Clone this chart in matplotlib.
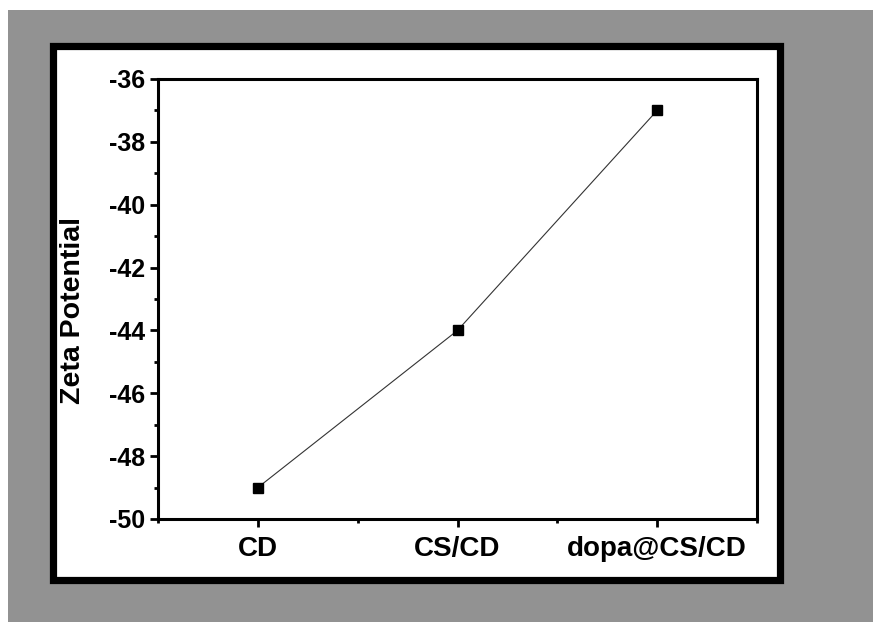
import matplotlib
matplotlib.use('Agg')
import matplotlib.pyplot as plt
import matplotlib.patches as patches
from matplotlib.ticker import MultipleLocator

# data
samples = ['CD', 'CS/CD', 'dopa@CS/CD']
zeta = [-49, -44, -37]
y_ticks = [-50, -48, -46, -44, -42, -40, -38, -36]

plt.rcParams['font.family'] = ['Liberation Sans', 'DejaVu Sans']
plt.rcParams['font.weight'] = 'bold'

W, H = 873, 622
fig = plt.figure(figsize=(W / 100, H / 100), dpi=100, facecolor='white')

# gray backdrop and black frame (pixel coords -> figure coords)
def fx(px):
    return px / W

def fy(py):
    return 1 - py / H

gray = patches.Rectangle((fx(8), 0), 1 - fx(8), fy(10), transform=fig.transFigure,
                         facecolor='#929292', edgecolor='none', zorder=0)
fig.patches.append(gray)
frame = patches.Rectangle((fx(52.5), fy(579.5)), fx(779.5) - fx(52.5), fy(45.5) - fy(579.5),
                          transform=fig.transFigure, facecolor='white', edgecolor='black',
                          linewidth=5.2, zorder=1)
fig.patches.append(frame)

ax = fig.add_axes([fx(158), fy(519), fx(757) - fx(158), fy(79) - fy(519)])
ax.set_zorder(2)

x = list(range(len(samples)))
ax.plot(x, zeta, color='#333333', linewidth=0.8, marker='s', markersize=7.2,
        markerfacecolor='black', markeredgecolor='black')

ax.set_xlim(-0.5, 2.5)
ax.set_ylim(-50, -36)
ax.set_xticks(x)
ax.set_xticklabels(samples, fontsize=20, fontweight='bold')
ax.set_yticks(y_ticks)
ax.set_yticklabels([str(v) for v in y_ticks], fontsize=18, fontweight='bold')
ax.xaxis.set_minor_locator(MultipleLocator(0.5))
ax.yaxis.set_minor_locator(MultipleLocator(1))

ax.tick_params(which='major', direction='out', length=6, width=2, pad=3)
ax.tick_params(axis='x', which='major', pad=6)
ax.tick_params(which='minor', direction='out', length=3, width=2)
for s in ax.spines.values():
    s.set_linewidth(2.2)

ax.set_ylabel('Zeta Potential', fontsize=20.5, fontweight='bold')
ax.yaxis.set_label_coords(-0.12, 0.473)

fig.savefig('out.png', dpi=100, facecolor='white')
